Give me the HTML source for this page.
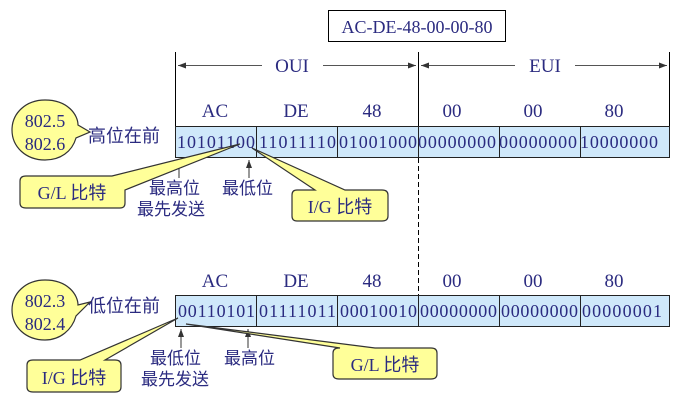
<!DOCTYPE html>
<html><head><meta charset="utf-8"><style>
html,body{margin:0;padding:0;background:#fff;}
svg{display:block;}
text{font-family:"Liberation Serif","Noto Serif CJK SC",serif;fill:#2b2b80;}
.cjk{font-family:"Liberation Sans","Noto Sans CJK SC",sans-serif;}
</style></head><body>
<svg width="687" height="407" viewBox="0 0 687 407" xmlns="http://www.w3.org/2000/svg">
<defs>
<marker id="a" markerWidth="8" markerHeight="6" refX="8" refY="3" orient="auto"><path d="M0,0 L8,3 L0,6 z" fill="#333"/></marker>
</defs>
<rect x="328.5" y="10.5" width="177" height="31" fill="#fff" stroke="#000"/>
<text x="417" y="33" font-size="18" text-anchor="middle">AC-DE-48-00-00-80</text>
<line x1="175.5" y1="52" x2="175.5" y2="126" stroke="#000"/>
<line x1="418.5" y1="52" x2="418.5" y2="126" stroke="#000"/>
<line x1="418.5" y1="158" x2="418.5" y2="296" stroke="#000" stroke-dasharray="5,3"/>
<line x1="669.5" y1="52" x2="669.5" y2="126" stroke="#000"/>
<line x1="262" y1="65.5" x2="178" y2="65.5" stroke="#555" marker-end="url(#a)"/>
<line x1="323" y1="65.5" x2="416" y2="65.5" stroke="#555" marker-end="url(#a)"/>
<text x="292" y="72" font-size="19" text-anchor="middle">OUI</text>
<line x1="515" y1="65.5" x2="421" y2="65.5" stroke="#555" marker-end="url(#a)"/>
<line x1="575" y1="65.5" x2="667" y2="65.5" stroke="#555" marker-end="url(#a)"/>
<text x="545" y="72" font-size="19" text-anchor="middle">EUI</text>
<g font-size="19" text-anchor="middle">
<text x="215" y="117">AC</text><text x="296" y="117">DE</text><text x="372" y="117">48</text>
<text x="452" y="117">00</text><text x="533" y="117">00</text><text x="614" y="117">80</text>
<text x="215" y="287">AC</text><text x="296" y="287">DE</text><text x="372" y="287">48</text>
<text x="452" y="287">00</text><text x="533" y="287">00</text><text x="614" y="287">80</text>
</g>
<g fill="#cfe8fa" stroke="#222">
<rect x="175.5" y="126.5" width="494" height="31"/>
<rect x="175.5" y="295.5" width="494" height="31"/>
</g>
<g stroke="#222">
<line x1="256.5" y1="126" x2="256.5" y2="158"/><line x1="337.5" y1="126" x2="337.5" y2="158"/><line x1="418.5" y1="126" x2="418.5" y2="158"/><line x1="499.5" y1="126" x2="499.5" y2="158"/><line x1="580.5" y1="126" x2="580.5" y2="158"/>
<line x1="256.5" y1="295" x2="256.5" y2="327"/><line x1="337.5" y1="295" x2="337.5" y2="327"/><line x1="418.5" y1="295" x2="418.5" y2="327"/><line x1="499.5" y1="295" x2="499.5" y2="327"/><line x1="580.5" y1="295" x2="580.5" y2="327"/>
</g>
<g font-size="18">
<text x="177" y="148" textLength="78">10101100</text>
<text x="259" y="148" textLength="77">11011110</text>
<text x="339" y="148" textLength="78">01001000</text>
<text x="418" y="148" textLength="78">00000000</text>
<text x="499" y="148" textLength="78">00000000</text>
<text x="580" y="148" textLength="78">10000000</text>
<text x="178" y="317" textLength="77">00110101</text>
<text x="259" y="317" textLength="77">01111011</text>
<text x="340" y="317" textLength="77">00010010</text>
<text x="420" y="317" textLength="77">00000000</text>
<text x="501" y="317" textLength="77">00000000</text>
<text x="582" y="317" textLength="80">00000001</text>
</g>
<g stroke="#333">
<line x1="179" y1="178" x2="179" y2="160" marker-end="url(#a)"/>
<line x1="249" y1="178" x2="249" y2="160" marker-end="url(#a)"/>
<line x1="181" y1="348" x2="181" y2="329" marker-end="url(#a)"/>
<line x1="248" y1="348" x2="248" y2="329" marker-end="url(#a)"/>
</g>
<g font-size="17">
<text class="cjk" x="149" y="194">最高位</text>
<text class="cjk" x="137" y="215">最先发送</text>
<text class="cjk" x="222" y="194">最低位</text>
<text class="cjk" x="150" y="364">最低位</text>
<text class="cjk" x="141" y="385">最先发送</text>
<text class="cjk" x="224" y="364">最高位</text>
<text class="cjk" x="88" y="142" font-size="18">高位在前</text>
<text class="cjk" x="88" y="312" font-size="18">低位在前</text>
</g>
<g fill="#ffff99" stroke="#333" stroke-width="1.2">
<path d="M45,100 C68,100 78,115 78,125 L90,132 L76,138 C72,152 60,160 45,160 C26,160 12,147 12,130 C12,113 26,100 45,100 Z"/>
<path d="M45,280 C68,280 78,295 78,305 L90,302 L76,316 C72,330 60,340 45,340 C26,340 12,327 12,310 C12,293 26,280 45,280 Z"/>
<path d="M26,176 H112 L240,144 L125,190 V203 Q125,208 120,208 H26 Q20,208 20,203 V181 Q20,176 26,176 Z"/>
<path d="M297,190 H315 L252,148 L345,190 H382 Q388,190 388,195 V216 Q388,221 382,221 H297 Q292,221 292,216 V195 Q292,190 297,190 Z"/>
<path d="M33,360 H80 L178,318 L105,360 H115 Q121,360 121,365 V387 Q121,392 115,392 H33 Q27,392 27,387 V365 Q27,360 33,360 Z"/>
<path d="M339,348 H340 L186,324 L375,348 H431 Q437,348 437,353 V374 Q437,379 431,379 H339 Q333,379 333,374 V353 Q333,348 339,348 Z"/>
</g>
<g font-size="18" text-anchor="middle">
<text x="45" y="127">802.5</text><text x="45" y="150">802.6</text>
<text x="45" y="307">802.3</text><text x="45" y="330">802.4</text>
<text x="72" y="199">G/L <tspan class="cjk">比特</tspan></text>
<text x="340" y="213">I/G <tspan class="cjk">比特</tspan></text>
<text x="74" y="384">I/G <tspan class="cjk">比特</tspan></text>
<text x="385" y="371">G/L <tspan class="cjk">比特</tspan></text>
</g>
</svg>
</body></html>
